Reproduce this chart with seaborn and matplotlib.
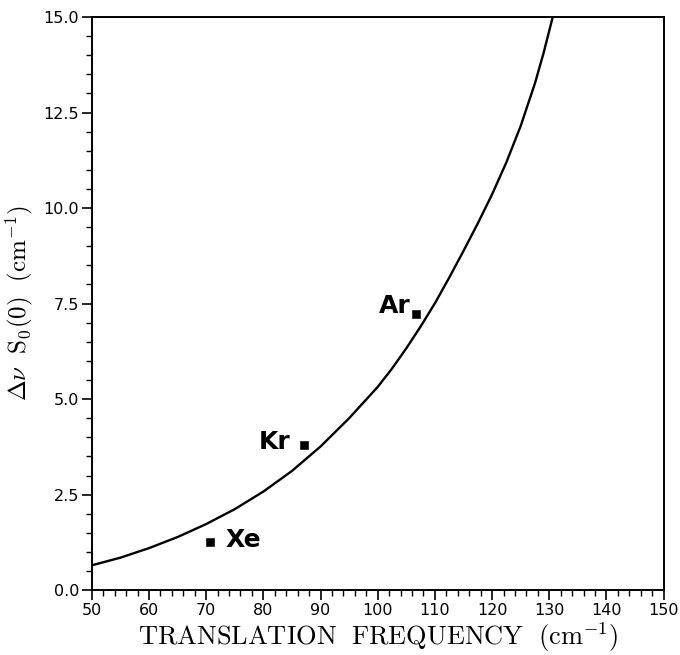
import matplotlib
matplotlib.use("Agg")
import matplotlib.pyplot as plt
import seaborn as sns
from matplotlib.ticker import MultipleLocator, FormatStrFormatter

# === DATA ===
FREQ = [50, 55, 60, 65, 70, 75, 80, 85, 90, 95, 100, 102.5, 105, 107.5, 110,
        112.5, 115, 117.5, 120, 122.5, 125, 127.5, 129, 130.6]
SPLIT = [0.65, 0.85, 1.10, 1.39, 1.73, 2.12, 2.58, 3.12, 3.76, 4.50, 5.32, 5.80, 6.33, 6.90, 7.51,
         8.18, 8.88, 9.60, 10.36, 11.20, 12.15, 13.27, 14.06, 15.0]

GAS = ["Xe", "Kr", "Ar"]
GAS_FREQ = [70.6, 87.1, 106.7]
GAS_SPLIT = [1.26, 3.81, 7.22]

# === PLOT ===
sns.set_style("ticks")
plt.rcParams["font.family"] = ["DejaVu Sans"]
plt.rcParams["mathtext.fontset"] = "cm"
plt.rcParams["text.color"] = "black"
plt.rcParams["xtick.color"] = "black"
plt.rcParams["ytick.color"] = "black"
plt.rcParams["axes.labelcolor"] = "black"

fig = plt.figure(figsize=(6.8, 6.55), dpi=100)
ax = fig.add_axes([0.135, 0.099, 0.841, 0.875])

sns.lineplot(x=FREQ, y=SPLIT, ax=ax, color="black", linewidth=1.7)
sns.scatterplot(x=GAS_FREQ, y=GAS_SPLIT, ax=ax, marker="s", s=28, color="black", edgecolor="black")

# labels next to the points
ax.text(GAS_FREQ[0] + 2.8, GAS_SPLIT[0] + 0.05, GAS[0], fontsize=18, fontweight="bold", va="center", ha="left")
ax.text(GAS_FREQ[1] - 2.3, GAS_SPLIT[1] + 0.08, GAS[1], fontsize=18, fontweight="bold", va="center", ha="right")
ax.text(GAS_FREQ[2] - 1.0, GAS_SPLIT[2] + 0.22, GAS[2], fontsize=18, fontweight="bold", va="center", ha="right")

ax.set_xlim(50, 150)
ax.set_ylim(0, 15)
ax.xaxis.set_major_locator(MultipleLocator(10))
ax.xaxis.set_minor_locator(MultipleLocator(2))
ax.yaxis.set_major_locator(MultipleLocator(2.5))
ax.yaxis.set_minor_locator(MultipleLocator(0.5))
ax.yaxis.set_major_formatter(FormatStrFormatter("%.1f"))

ax.tick_params(which="major", direction="out", length=7, width=1.2, labelsize=11.5, pad=2)
ax.tick_params(which="minor", direction="out", length=4, width=1.0)
for side in ["top", "right", "bottom", "left"]:
    ax.spines[side].set_visible(True)
    ax.spines[side].set_linewidth(1.4)
    ax.spines[side].set_color("black")

ax.set_xlabel(r"$\mathrm{TRANSLATION\ \ FREQUENCY\ \ (cm^{-1})}$", fontsize=19, labelpad=2)
ax.set_ylabel(r"$\Delta\nu\ \ \mathrm{S_0(0)\ \ (cm^{-1})}$", fontsize=18, labelpad=6)

plt.savefig("out.png", dpi=100)
plt.close()
